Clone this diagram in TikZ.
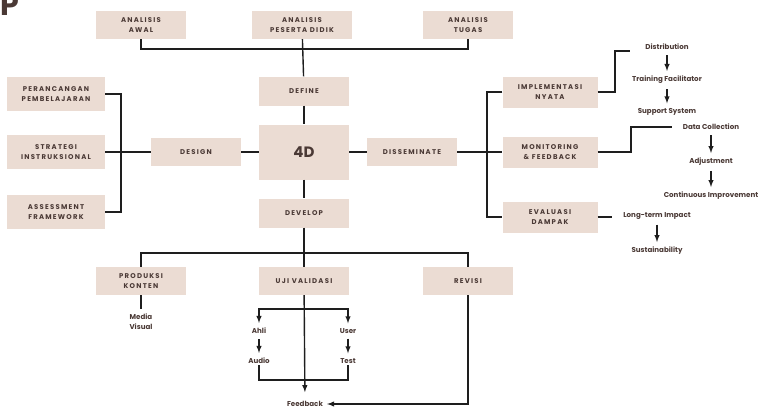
\documentclass[tikz,border=0pt]{standalone}
\usepackage{fontspec}
\setmainfont{Poppins}
\newfontfamily\capsfont{Poppins}[LetterSpace=18]
\definecolor{boxfill}{HTML}{EBDCD3}
\definecolor{ink}{HTML}{4A3935}
\definecolor{linecol}{HTML}{1E1E1E}

\begin{document}
\begin{tikzpicture}[x=1pt,y=-1pt]
                    \tikzstyle{box}=[fill=boxfill,text=ink,font=\capsfont\bfseries\fontsize{6.9}{10}\selectfont,align=center,inner sep=0pt,minimum width=90pt,minimum height=28pt]
                    \tikzstyle{sidebox}=[box,minimum width=98pt,minimum height=34pt]
                    \tikzstyle{rightbox}=[box,minimum width=95pt,minimum height=31pt]
                    \tikzstyle{item}=[text=ink,font=\bfseries\fontsize{7.1}{10}\selectfont,align=center,inner sep=1pt]
                    \tikzstyle{wire}=[draw=linecol,line width=1.4pt]
                    \tikzstyle{flow}=[wire,-latex,shorten <=4pt,shorten >=4pt]
                    \useasboundingbox (0,0) rectangle (760,408);

                    \node (title) at (0,15) [anchor=base west,text=ink,font=\bfseries\fontsize{30}{30}\selectfont,inner sep=0pt] {P};

                    \node (aawal) at (141,25) [box] {ANALISIS\\AWAL};
                    \node (apd) at (302,25) [box,minimum width=100pt] {ANALISIS\\PESERTA DIDIK};
                    \node (atugas) at (468,25) [box] {ANALISIS\\TUGAS};

                    \node (define) at (304,91) [box,minimum height=29pt] {DEFINE};
                    \node (fourd) at (304,152) [box,minimum height=55pt,font=\bfseries\fontsize{15}{18}\selectfont] {4D};
                    \node (develop) at (304,213) [box,minimum height=29pt] {DEVELOP};
                    \node (design) at (196,152) [box] {DESIGN};
                    \node (dissem) at (412,152) [box] {DISSEMINATE};

                    \node (perancangan) at (56,94) [sidebox] {PERANCANGAN\\PEMBELAJARAN};
                    \node (strategi) at (56,152) [sidebox] {STRATEGI\\INSTRUKSIONAL};
                    \node (assess) at (56,212) [sidebox] {ASSESSMENT\\FRAMEWORK};

                    \node (impl) at (550,92) [rightbox] {IMPLEMENTASI\\NYATA};
                    \node (monit) at (550,152) [rightbox] {MONITORING\\\& FEEDBACK};
                    \node (eval) at (550,217) [rightbox] {EVALUASI\\DAMPAK};

                    \node (produksi) at (141,281) [box] {PRODUKSI\\KONTEN};
                    \node (uji) at (304,281) [box] {UJI VALIDASI};
                    \node (revisi) at (468,281) [box] {REVISI};

                    \node (distr) at (667,47) [item] {Distribution};
                    \node (train) at (667,80) [item] {Training Facilitator};
                    \node (support) at (667,112) [item] {Support System};
                    \node (datacoll) at (711,127) [item] {Data Collection};
                    \node (adjust) at (711,162) [item] {Adjustment};
                    \node (contimp) at (711,196) [item] {Continuous Improvement};
                    \node (longterm) at (657,216) [item] {Long-term Impact};
                    \node (sustain) at (657,251) [item] {Sustainability};

                    \node (media) at (141,322) [item] {Media\\Visual};
                    \node (ahli) at (259,331) [item] {Ahli};
                    \node (user) at (348,331) [item] {User};
                    \node (audio) at (259,361) [item] {Audio};
                    \node (test) at (348,361) [item] {Test};
                    \node (feedback) at (305,404) [item] {Feedback};

                    \coordinate (topbus) at (304,49);
                    \coordinate (leftbus) at (121,152);
                    \coordinate (rightbus) at (487,152);
                    \coordinate (lowbus) at (304,253);
                    \coordinate (split) at (304,309);
                    \coordinate (join) at (304,380);
                    \coordinate (k1) at (615,51);
                    \coordinate (k2) at (630,51);
                    \coordinate (k3) at (631,127);
                    \coordinate (k4) at (672,127);
                    \coordinate (k5) at (612,217);

                    \draw [wire] (aawal.south) |- (topbus) -| (atugas.south);
                    \draw [wire] (apd) -- (define);
                    \draw [wire] (define) -- (fourd);
                    \draw [wire] (design) -- (fourd);
                    \draw [wire] (fourd) -- (dissem);
                    \draw [wire] (fourd) -- (develop);

                    \draw [wire] (perancangan.east) -| (leftbus) |- (assess.east);
                    \draw [wire] (strategi) -- (design);

                    \draw [wire] (impl.west) -| (rightbus) |- (eval.west);
                    \draw [wire] (dissem) -- (monit);

                    \draw [wire] (impl.east) -| (k1) -- (k2);
                    \draw [flow] (distr) -- (train);
                    \draw [flow] (train) -- (support);
                    \draw [wire] (monit.east) -| (k3) -- (k4);
                    \draw [flow] (datacoll) -- (adjust);
                    \draw [flow] (adjust) -- (contimp);
                    \draw [wire] (eval.east) -- (k5);
                    \draw [flow] (longterm) -- (sustain);

                    \draw [wire] (develop) -- (uji);
                    \draw [wire] (produksi.north) |- (lowbus) -| (revisi.north);
                    \draw [wire,shorten >=4pt] (produksi) -- (media);
                    \draw [flow,shorten <=0pt,shorten >=8pt] (uji) -- (feedback);
                    \draw [flow,shorten <=0pt] (split) -| (ahli);
                    \draw [flow,shorten <=0pt] (split) -| (user);
                    \draw [flow] (ahli) -- (audio);
                    \draw [flow] (user) -- (test);
                    \draw [wire] (audio) |- (join) -| (test);
                    \draw [flow,shorten <=0pt,shorten >=3pt] (revisi) |- (feedback);
                \end{tikzpicture}
\end{document}
